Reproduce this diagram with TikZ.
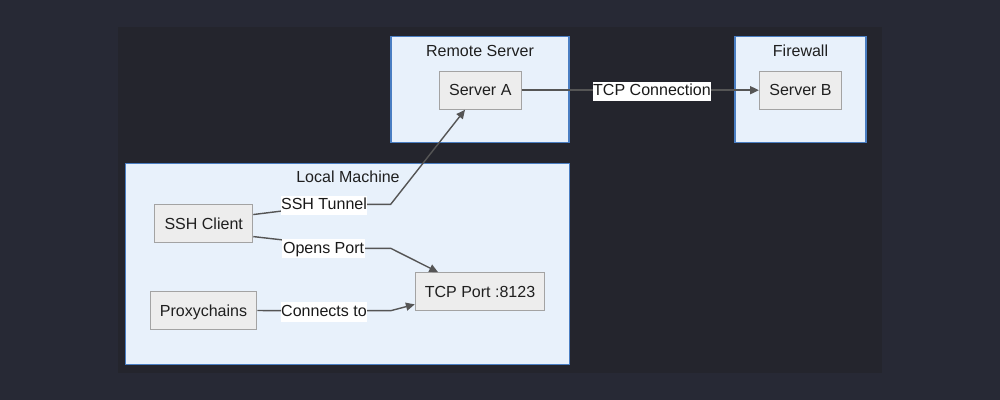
\documentclass[tikz,border=0pt]{standalone}
\usepackage{fontspec}
\setmainfont{Liberation Sans}
\usepackage{xcolor}
\usepackage{tikz}
\usetikzlibrary{arrows.meta,positioning}
\definecolor{pagebg}{HTML}{272935}
\definecolor{canvasbg}{HTML}{24252D}
\definecolor{groupfill}{HTML}{E8F1FB}
\definecolor{groupline}{HTML}{4A7EC2}
\definecolor{boxfill}{HTML}{EDEDED}
\definecolor{boxline}{HTML}{A3A3A3}
\definecolor{wire}{HTML}{555555}
\tikzset{
    group/.style={
        rectangle, draw=groupline, fill=groupfill, line width=0.8pt
    },
    grouptitle/.style={
        inner sep=0pt, text=black!88,
        font=\fontsize{11.4}{13.7}\selectfont
    },
    host/.style={
        rectangle, draw=boxline, fill=boxfill, line width=0.8pt,
        minimum height=0.95cm, inner sep=0pt, text=black!88,
        text height=8.2pt, text depth=0pt,
        font=\fontsize{11.4}{13.7}\selectfont
    },
    elabel/.style={
        fill=white, inner xsep=0.4pt, inner ysep=1.4pt,
        text height=8.4pt, text depth=2.4pt, text=black!90,
        font=\fontsize{11.4}{13.7}\selectfont
    },
    wireline/.style={draw=wire, line width=1pt},
    arrow/.style={wireline, -{Triangle[length=2.2mm,width=2mm]}}
}
\begin{document}
\begin{tikzpicture}[x=0.025cm, y=-0.025cm]
\useasboundingbox (0,0) rectangle (1000,400);
\fill[pagebg] (0,0) rectangle (1000,400);
\fill[canvasbg] (118,27) rectangle (882,373);

%% Groups
\node[group, minimum width=4.45cm,  minimum height=2.66cm] (remote) at (480,  89.7) {};
\node[group, minimum width=3.275cm, minimum height=2.66cm] (fw)     at (800.5,89.7) {};
\node[group, minimum width=11.09cm, minimum height=5.02cm] (local)  at (347.5,263.7) {};
\node[grouptitle] (remotet) at (480,  50.8) {Remote Server};
\node[grouptitle] (fwt)     at (800.5,50.8) {Firewall};
\node[grouptitle] (localt)  at (348, 176.8) {Local Machine};

%% Hosts
\node[host, minimum width=2.05cm]  (srva) at (480.3,90.2)  {Server A};
\node[host, minimum width=2.05cm]  (srvb) at (800.5,90.2)  {Server B};
\node[host, minimum width=2.45cm]  (sshc) at (203.7,223.3) {SSH Client};
\node[host, minimum width=2.66cm]  (prox) at (203.5,310.5) {Proxychains};
\node[host, minimum width=3.235cm] (tcp)  at (480,  291.7) {TCP Port :8123};

%% bend points of the edges
\coordinate (tunnelL) at (282,211);
\coordinate (tunnelR) at (366,204.3);
\coordinate (tunnelK) at (390.7,204.3);
\coordinate (opensL)  at (283.3,240);
\coordinate (opensR)  at (364,248.3);
\coordinate (opensK)  at (390.7,248.3);
\coordinate (connL)   at (281.7,310.7);
\coordinate (connR)   at (366,310.7);
\coordinate (connK)   at (390.7,310.7);

%% Edges
\draw[arrow] (srva.east) -- (srvb.west);
\draw[arrow] (sshc.10) -- (tunnelL) -- (tunnelR) -- (tunnelK) -- (srva.232);
\draw[arrow] (sshc.-15) -- (opensL) -- (opensR) -- (opensK) -- (tcp.155);
\draw[arrow] (prox.east) -- (connL) -- (connR) -- (connK) -- (tcp.191);

%% Edge labels
\node[elabel] (tcpconn) at (652,  91.2)  {TCP Connection};
\node[elabel] (tunnel)  at (324,  205.6) {SSH Tunnel};
\node[elabel] (opens)   at (323.6,248.8) {Opens Port};
\node[elabel] (conn)    at (324,  312)   {Connects to};

\end{tikzpicture}
\end{document}
